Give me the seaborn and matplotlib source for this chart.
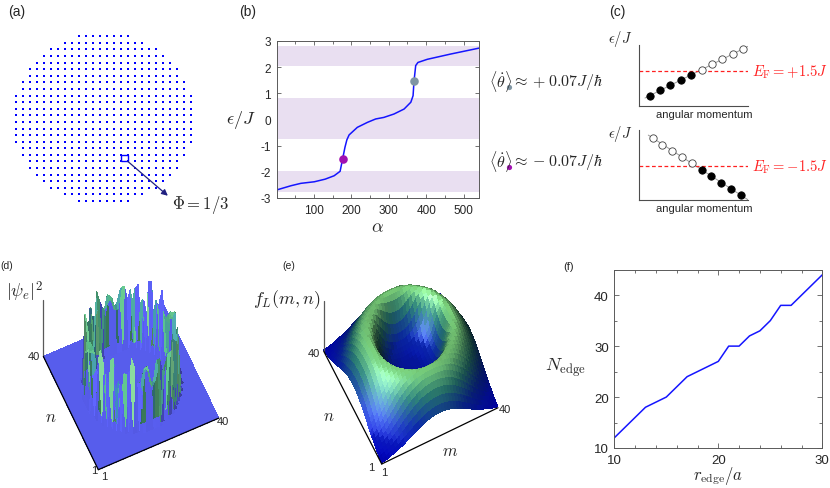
import numpy as np
import pandas as pd
import matplotlib
matplotlib.use("Agg")
import matplotlib.pyplot as plt
import seaborn as sns
from matplotlib.colors import LinearSegmentedColormap
from matplotlib.patches import Rectangle
from matplotlib.ticker import MultipleLocator

sns.set_style("ticks")
plt.rcParams["font.family"] = ["Liberation Sans", "DejaVu Sans"]
plt.rcParams["mathtext.fontset"] = "cm"
plt.rcParams["axes.unicode_minus"] = False

W, H = 830, 489

# (a) disc of lattice sites on half-integer coordinates
lattice_half = 13
lattice_r2 = 170.0
plaquette = (2.5, -6.5)

# (b) single-particle spectrum
alpha = [1, 39, 65, 101, 130, 154, 170, 176.5, 183, 188, 194, 216, 243, 265,
         287, 314, 341, 359, 365, 367.5, 372, 378, 403, 465, 542]
eps = [-2.69, -2.53, -2.44, -2.38, -2.28, -2.15, -1.98, -1.52, -1.06, -0.78,
       -0.59, -0.30, -0.11, 0.02, 0.08, 0.21, 0.40, 0.66, 0.91, 1.46, 2.06,
       2.18, 2.30, 2.50, 2.73]
gap_bands = [(2.05, 2.82), (-0.74, 0.81), (-2.77, -1.97)]
edge_lo = (176.5, -1.52)
edge_hi = (367.5, 1.46)

# (c) edge levels vs angular momentum
mom_top = [1, 2, 3, 4, 5, 6, 7, 8, 9, 10]
lev_top = [1.59, 2.52, 3.39, 4.21, 5.03, 5.90, 6.79, 7.61, 8.48, 9.30]
occ_top = [1, 1, 1, 1, 1, 0, 0, 0, 0, 0]
ef_top = 5.74
mom_bot = [1, 2, 3, 4, 5, 6, 7, 8, 9, 10]
lev_bot = [8.81, 7.86, 7.00, 6.14, 5.19, 4.29, 3.39, 2.43, 1.57, 0.61]
occ_bot = [0, 0, 0, 0, 0, 1, 1, 1, 1, 1]
ef_bot = 4.81

# (d) edge-state density: spike height around the ring
ring_radius = 13.2
spike_heights = [1.25, 0.95, 1.40, 1.05, 1.35, 0.90, 1.20, 1.45, 1.00, 1.30,
                 0.92, 1.35, 1.10, 1.25, 0.95, 1.40, 1.05, 1.20, 0.90, 1.35,
                 1.15, 1.00, 1.30, 1.05, 1.40, 0.95, 1.25, 1.10, 1.35, 0.92,
                 1.20, 1.05, 1.35, 1.00, 1.25, 1.10, 1.40, 0.95, 1.15, 1.30]

# (e) radial profile of f_L
fl_radius = [0, 4, 7, 9, 10.5, 11.5, 12.5, 13.5, 15, 17, 19, 21, 23, 26, 29]
fl_value = [0.18, 0.20, 0.30, 0.50, 0.76, 0.93, 1.00, 0.99, 0.92, 0.74, 0.52,
            0.32, 0.17, 0.05, 0.0]

# (f) number of edge states vs radius
r_edge = [10, 13, 15, 17, 20, 21, 22, 23, 24, 25, 26, 27, 30]
n_edge = [12, 18, 20, 24, 27, 30, 30, 32, 33, 35, 38, 38, 44]


def rect(x0, y0, x1, y1):
    return [x0 / W, 1 - y1 / H, (x1 - x0) / W, (y1 - y0) / H]


def lit(Z, cmap, vmax, exag, light, amb):
    gy, gx = np.gradient(Z * exag)
    nrm = np.dstack([-gx, -gy, np.ones_like(Z)])
    nrm /= np.linalg.norm(nrm, axis=2, keepdims=True)
    L = np.array(light) / np.linalg.norm(light)
    inten = np.clip((nrm * L).sum(axis=2), 0, 1)
    base = cmap(np.clip(Z / vmax, 0, 1))[..., :3]
    col = base * (amb + (1.05 - amb) * inten[..., None]) + 0.3 * inten[..., None] ** 30
    return np.clip(col, 0, 1)


fig = plt.figure(figsize=(W / 100, H / 100), dpi=100)

# ---------- (a) ----------
ii = np.arange(-lattice_half, lattice_half) + 0.5
gx, gy = np.meshgrid(ii, ii)
inside = gx ** 2 + gy ** 2 <= lattice_r2
sites = pd.DataFrame({"x": gx[inside], "y": gy[inside]})
ax_a = fig.add_axes(rect(5.2, 27.4, 201.5, 211.9))
sns.scatterplot(data=sites, x="x", y="y", ax=ax_a, color="#0000ff", s=3,
                marker="s", linewidth=0)
ax_a.add_patch(Rectangle(plaquette, 1, 1, fill=False, ec="#0000ff", lw=1.0))
ax_a.annotate("", xy=(9.2, -11.7), xytext=(plaquette[0] + 1, plaquette[1]),
              arrowprops=dict(arrowstyle="-|>", color="#202080", lw=0.9,
                              mutation_scale=9, shrinkA=0, shrinkB=0))
ax_a.text(9.8, -12.9, r"$\Phi = 1/3$", fontsize=12, va="center", clip_on=False)
ax_a.set_xlim(-14, 14)
ax_a.set_ylim(-14, 14)
ax_a.axis("off")

# ---------- (b) ----------
ax_b = fig.add_axes(rect(276.5, 42, 479.3, 199))
for lo, hi in gap_bands:
    ax_b.axhspan(lo, hi, color="#e9dff1", lw=0)
sns.lineplot(x=alpha, y=eps, ax=ax_b, color="#1515ff", lw=1.1)
ax_b.scatter(*edge_lo, s=38, color="#a010b0", zorder=5, lw=0)
ax_b.scatter(*edge_hi, s=38, color="#7f95a3", zorder=5, lw=0)
ax_b.set_xlim(0, 542)
ax_b.set_ylim(-3, 3)
ax_b.set_xticks([100, 200, 300, 400, 500])
ax_b.xaxis.set_minor_locator(MultipleLocator(50))
ax_b.set_yticks([-3, -2, -1, 0, 1, 2, 3])
ax_b.tick_params(which="both", direction="in", top=True, right=True,
                 width=0.6, color="0.35", labelsize=8.5, pad=4)
ax_b.tick_params(which="major", length=3)
ax_b.tick_params(which="minor", length=2)
for s in ax_b.spines.values():
    s.set_color("0.35")
    s.set_linewidth(0.7)
ax_b.set_xlabel(r"$\alpha$", fontsize=13, labelpad=2)
ax_b.set_ylabel(r"$\epsilon/J$", fontsize=13, rotation=0, labelpad=14, va="center")


# ---------- (c) ----------
def level_panel(box, mom, lev, occ, ef, xlim):
    ax = fig.add_axes(rect(*box))
    fit = np.polyfit(mom, lev, 1)
    xs = np.array([0.55, xlim[1]])
    ax.plot(xs, np.polyval(fit, xs), color="0.6", lw=0.7, zorder=1)
    df = pd.DataFrame({"k": mom, "e": lev, "occ": occ})
    sns.scatterplot(data=df[df.occ == 1], x="k", y="e", ax=ax, s=28,
                    color="black", edgecolor="black", linewidth=0.6, zorder=3)
    sns.scatterplot(data=df[df.occ == 0], x="k", y="e", ax=ax, s=28,
                    color="white", edgecolor="0.25", linewidth=0.6, zorder=3)
    ax.axhline(ef, color="#ff2020", lw=0.9, ls=(0, (3, 2)), zorder=2)
    ax.set_xlim(*xlim)
    ax.set_ylim(0, 10)
    ax.set_xticks([])
    ax.set_yticks([])
    ax.set_xlabel("")
    ax.set_ylabel("")
    for side in ("top", "right"):
        ax.spines[side].set_visible(False)
    for side in ("left", "bottom"):
        ax.spines[side].set_color("0.3")
        ax.spines[side].set_linewidth(0.8)
    ax.patch.set_alpha(0)
    return ax


level_panel((639.3, 45.7, 748.3, 106.7), mom_top, lev_top, occ_top, ef_top, (0, 10.5))
level_panel((639.3, 130.7, 748.3, 200.5), mom_bot, lev_bot, occ_bot, ef_bot, (-0.37, 10.78))

# ---------- (f) ----------
ax_f = fig.add_axes(rect(614.3, 270.7, 822.3, 449))
sns.lineplot(x=r_edge, y=n_edge, ax=ax_f, color="#1515ff", lw=1.1)
ax_f.set_xlim(10, 30)
ax_f.set_ylim(10, 45)
ax_f.set_xticks([10, 20, 30])
ax_f.set_yticks([10, 20, 30, 40])
ax_f.xaxis.set_minor_locator(MultipleLocator(2))
ax_f.yaxis.set_minor_locator(MultipleLocator(5))
ax_f.tick_params(which="both", direction="in", top=True, right=True,
                 width=0.6, color="0.35", labelsize=9.5, pad=4)
ax_f.tick_params(which="major", length=3.5)
ax_f.tick_params(which="minor", length=2)
for s in ax_f.spines.values():
    s.set_color("0.35")
    s.set_linewidth(0.7)

# ---------- (d), (e) 3D ----------
grid = np.arange(1, 41)
M, N = np.meshgrid(grid, grid)
rad = np.hypot(M - 20.5, N - 20.5)
ang = np.arctan2(N - 20.5, M - 20.5)
nspk = len(spike_heights)
pos = (ang + np.pi) / (2 * np.pi) * nspk
sector = pos.astype(int) % nspk
taper = 0.55 + 0.45 * np.clip(1 - 2 * np.abs(pos % 1 - 0.5), 0, 1)
Zd = np.where(np.abs(rad - ring_radius) < 0.7,
              np.array(spike_heights)[sector] * taper, 0.0)
Ze = np.interp(rad, fl_radius, fl_value)

cmap_d = LinearSegmentedColormap.from_list("d", ["#5e64ff", "#3f90c4", "#5cc890", "#acf2ac"])
cmap_e = LinearSegmentedColormap.from_list("e", ["#0000c8", "#0a2aa8", "#2a8078", "#84e084"])


def project(ax, pts):
    Mp = ax.get_proj()
    out = []
    for p in pts:
        v = Mp @ np.array([p[0], p[1], p[2], 1.0])
        out.append(ax.transData.transform((v[0] / v[3], v[1] / v[3])))
    return np.array(out)


def surf_panel(box, Z, cmap, vmax, exag, light, amb, elev, azim, zasp, origin, length):
    ax = fig.add_axes(rect(*box), projection="3d", proj_type="ortho",
                      computed_zorder=False)
    ax.plot_surface(M, N, Z, facecolors=lit(Z, cmap, vmax, exag, light, amb),
                    rstride=1, cstride=1, linewidth=0, antialiased=False,
                    shade=False, zorder=1)
    ax.plot([1, 1], [40, 40], [0, 1], color="0.35", lw=0.9, zorder=3)
    ax.plot([1, 40], [1, 1], [0, 0], color="k", lw=0.9, zorder=3)
    ax.plot([1, 1], [1, 40], [0, 0], color="k", lw=0.9, zorder=3)
    ax.set_xlim(1, 40)
    ax.set_ylim(1, 40)
    ax.set_zlim(0, 1)
    ax.view_init(elev=elev, azim=azim)
    ax.set_axis_off()
    ax.patch.set_alpha(0)
    # scale and shift so the base square lands where the reference has it
    zoom = 1.0
    ax.set_box_aspect((1, 1, zasp), zoom=zoom)
    for _ in range(2):
        fig.canvas.draw()
        c = project(ax, [(1, 1, 0), (40, 1, 0), (1, 40, 0)])
        cur = (np.linalg.norm(c[1] - c[0]) + np.linalg.norm(c[2] - c[0])) / 2
        zoom *= length / cur
        ax.set_box_aspect((1, 1, zasp), zoom=zoom)
    fig.canvas.draw()
    c = project(ax, [(1, 1, 0)])[0]
    dx = origin[0] - c[0]
    dy = (H - origin[1]) - c[1]
    p = ax.get_position(original=True)
    ax.set_position([p.x0 + dx / W, p.y0 + dy / H, p.width, p.height])
    return ax


surf_panel((0, 250, 260, 510), Zd, cmap_d, 1.45, 6, (-0.5, -0.5, 0.75), 0.6,
           70, -114.5, 1.25, (98.3, 470.7), 128.5)
surf_panel((280, 250, 540, 510), Ze, cmap_e, 1.0, 10, (-0.6, -0.4, 0.7), 0.3,
           76, -116.5, 1.6, (381.7, 465), 128)

# ---------- overlay text in pixel coordinates ----------
ov = fig.add_axes([0, 0, 1, 1])
ov.set_xlim(0, W)
ov.set_ylim(H, 0)
ov.axis("off")
ov.patch.set_alpha(0)

for x, y, lab, fs in [(8, 12, "(a)", 10), (239, 12, "(b)", 10), (609, 12, "(c)", 10),
                      (0, 266, "(d)", 7.5), (282, 266, "(e)", 7.5), (563, 267, "(f)", 8)]:
    ov.text(x, y, lab, fontsize=fs, va="center", ha="left")

ov.text(489, 82, r"$\langle\dot{\theta}\rangle$", fontsize=11.5, va="center")
ov.scatter([509.3], [88.3], s=14, color="#7f95a3", lw=0)
ov.text(511.7, 82, r"$\approx +0.07J/\hbar$", fontsize=11.5, va="center")
ov.text(489, 162, r"$\langle\dot{\theta}\rangle$", fontsize=11.5, va="center")
ov.scatter([509.3], [168.3], s=14, color="#a010b0", lw=0)
ov.text(511.7, 162, r"$\approx -0.07J/\hbar$", fontsize=11.5, va="center")

ov.text(752, 72, r"$E_{\rm F} = +1.5J$", fontsize=10.5, color="#ff2020", va="center")
ov.text(752, 167, r"$E_{\rm F} = -1.5J$", fontsize=10.5, color="#ff2020", va="center")
for y in (39, 134):
    ov.text(620, y, r"$\epsilon/J$", fontsize=10.5, ha="center", va="center")
for y in (114.5, 209.3):
    ov.text(704, y, "angular momentum", fontsize=8, ha="center", va="center")

ov.text(25, 292, r"$|\psi_e|^2$", fontsize=13, ha="center", va="center")
ov.text(40, 357, "40", fontsize=8, ha="right", va="center")
ov.text(50.7, 418, r"$n$", fontsize=12, ha="center", va="center")
ov.text(169, 453, r"$m$", fontsize=12, ha="center", va="center")
ov.text(94.3, 470.7, "1", fontsize=8, ha="center", va="center")
ov.text(104.3, 476.7, "1", fontsize=8, ha="center", va="center")
ov.text(223, 421.7, "40", fontsize=8, ha="center", va="center")

ov.text(286.7, 300, r"$f_L(m,n)$", fontsize=13, ha="center", va="center")
ov.text(320, 354, "40", fontsize=8, ha="right", va="center")
ov.text(328.3, 416.7, r"$n$", fontsize=12, ha="center", va="center")
ov.text(450, 451.7, r"$m$", fontsize=12, ha="center", va="center")
ov.text(371.7, 468.3, "1", fontsize=8, ha="center", va="center")
ov.text(384, 473.3, "1", fontsize=8, ha="center", va="center")
ov.text(505, 410, "40", fontsize=8, ha="center", va="center")

ov.text(565, 368, r"$N_{\rm edge}$", fontsize=13, ha="center", va="center")
ov.text(718, 476, r"$r_{\rm edge}/a$", fontsize=12, ha="center", va="center")

fig.savefig("out.png", dpi=100)
